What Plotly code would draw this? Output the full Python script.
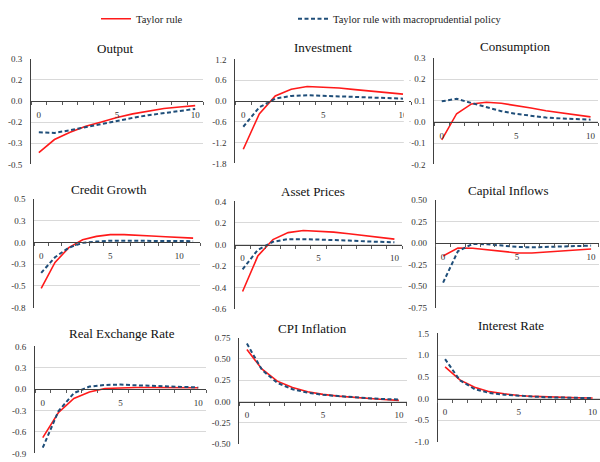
import plotly.graph_objects as go

# ---------------- data ----------------
periods11 = list(range(11))
periods12 = list(range(12))

series_names = ["Taylor rule", "Taylor rule with macroprudential policy"]
panel_titles = ["Output", "Investment", "Consumption",
                "Credit Growth", "Asset Prices", "Capital Inflows",
                "Real Exchange Rate", "CPI Inflation", "Interest Rate"]

output_taylor = [-0.366, -0.273, -0.221, -0.179, -0.149, -0.116, -0.091, -0.070, -0.053, -0.042, -0.032]
output_macro = [-0.221, -0.226, -0.207, -0.184, -0.160, -0.140, -0.119, -0.100, -0.084, -0.070, -0.056]

investment_taylor = [-1.39, -0.37, 0.15, 0.34, 0.42, 0.41, 0.38, 0.33, 0.28, 0.24, 0.20]
investment_macro = [-0.74, -0.18, 0.07, 0.15, 0.17, 0.15, 0.13, 0.11, 0.09, 0.08, 0.07]

consumption_taylor = [-0.085, 0.038, 0.084, 0.092, 0.087, 0.077, 0.065, 0.052, 0.042, 0.032, 0.023]
consumption_macro = [0.096, 0.108, 0.088, 0.068, 0.050, 0.037, 0.027, 0.020, 0.016, 0.012, 0.010]

credit_taylor = [-0.53, -0.23, -0.06, 0.03, 0.07, 0.09, 0.09, 0.085, 0.075, 0.065, 0.058, 0.05]
credit_macro = [-0.35, -0.17, -0.06, -0.005, 0.01, 0.02, 0.02, 0.02, 0.02, 0.02, 0.018, 0.015]

asset_taylor = [-0.435, -0.107, 0.046, 0.11, 0.13, 0.125, 0.115, 0.10, 0.085, 0.07, 0.05]
asset_macro = [-0.23, -0.05, 0.025, 0.05, 0.05, 0.048, 0.043, 0.037, 0.03, 0.025, 0.02]

capital_taylor = [-0.15, -0.057, -0.06, -0.08, -0.10, -0.115, -0.115, -0.105, -0.095, -0.085, -0.07]
capital_macro = [-0.46, -0.095, -0.01, -0.015, -0.03, -0.045, -0.05, -0.045, -0.04, -0.035, -0.03]

rer_taylor = [-0.68, -0.33, -0.13, -0.04, 0.01, 0.02, 0.025, 0.025, 0.025, 0.025, 0.02]
rer_macro = [-0.82, -0.31, -0.055, 0.037, 0.06, 0.065, 0.055, 0.045, 0.035, 0.03, 0.025]

cpi_taylor = [0.61, 0.38, 0.24, 0.165, 0.115, 0.085, 0.065, 0.05, 0.035, 0.025, 0.015]
cpi_macro = [0.68, 0.37, 0.22, 0.145, 0.105, 0.08, 0.065, 0.05, 0.04, 0.03, 0.025]

interest_taylor = [0.73, 0.43, 0.26, 0.16, 0.11, 0.07, 0.05, 0.035, 0.025, 0.02, 0.015]
interest_macro = [0.91, 0.42, 0.22, 0.13, 0.09, 0.06, 0.045, 0.03, 0.02, 0.015, 0.01]

# y tick values and (Excel-rounded) labels
output_ticks = [0.3, 0.15, 0.0, -0.15, -0.3, -0.45]
output_labels = ["0.3", "0.2", "0.0", "-0.2", "-0.3", "-0.5"]
investment_ticks = [1.2, 0.6, 0.0, -0.6, -1.2, -1.8]
investment_labels = ["1.2", "0.6", "0.0", "-0.6", "-1.2", "-1.8"]
consumption_ticks = [0.3, 0.2, 0.1, 0.0, -0.1, -0.2]
consumption_labels = ["0.3", "0.2", "0.1", "0.0", "-0.1", "-0.2"]
credit_ticks = [0.5, 0.25, 0.0, -0.25, -0.5, -0.75]
credit_labels = ["0.5", "0.3", "0.0", "-0.3", "-0.5", "-0.8"]
asset_ticks = [0.4, 0.2, 0.0, -0.2, -0.4, -0.6]
asset_labels = ["0.4", "0.2", "0.0", "-0.2", "-0.4", "-0.6"]
capital_ticks = [0.5, 0.25, 0.0, -0.25, -0.5, -0.75]
capital_labels = ["0.50", "0.25", "0.00", "-0.25", "-0.50", "-0.75"]
rer_ticks = [0.6, 0.3, 0.0, -0.3, -0.6, -0.9]
rer_labels = ["0.6", "0.3", "0.0", "-0.3", "-0.6", "-0.9"]
cpi_ticks = [0.75, 0.5, 0.25, 0.0, -0.25, -0.5]
cpi_labels = ["0.75", "0.50", "0.25", "0.00", "-0.25", "-0.50"]
interest_ticks = [1.5, 1.0, 0.5, 0.0, -0.5, -1.0]
interest_labels = ["1.5", "1.0", "0.5", "0.0", "-0.5", "-1.0"]

x_tick_values = [0, 5, 10]
x_tick_labels = ["0", "5", "10"]

# ---------------- layout geometry (pixels) ----------------
W, H = 600, 462
def px(x):
    return x / W
def py(y):
    return 1 - y / H

# (x_left, x_right, y_top, y_bottom, title_cx, title_cy)
geom = [
    (31, 203, 55, 163, 115, 44),
    (235.3, 411, 55.7, 162, 323, 43),
    (434.3, 598, 54, 163, 515, 42),
    (34.3, 200, 198.3, 309.3, 109, 189),
    (235, 402, 200.7, 311, 313, 191),
    (435.7, 598.5, 199.3, 309.3, 508, 190),
    (35, 206, 349, 458.3, 122, 336),
    (239.3, 406.5, 340, 449, 313, 331),
    (437.7, 600, 335.7, 446.7, 511, 328),
]

panels = [
    (periods11, output_taylor, output_macro, output_ticks, output_labels),
    (periods11, investment_taylor, investment_macro, investment_ticks, investment_labels),
    (periods11, consumption_taylor, consumption_macro, consumption_ticks, consumption_labels),
    (periods12, credit_taylor, credit_macro, credit_ticks, credit_labels),
    (periods11, asset_taylor, asset_macro, asset_ticks, asset_labels),
    (periods11, capital_taylor, capital_macro, capital_ticks, capital_labels),
    (periods11, rer_taylor, rer_macro, rer_ticks, rer_labels),
    (periods11, cpi_taylor, cpi_macro, cpi_ticks, cpi_labels),
    (periods11, interest_taylor, interest_macro, interest_ticks, interest_labels),
]

RED = "#ff1a1a"
BLUE = "#1f4e79"
FONT = "Liberation Serif"
TICKCOLOR = "#333333"

legend_common = dict(orientation="h", xanchor="left", yanchor="middle",
                     font=dict(family=FONT, size=10.5, color="#222222"),
                     bgcolor="rgba(0,0,0,0)", itemwidth=30)

fig = go.Figure()
layout = dict(
    width=W, height=H,
    margin=dict(l=0, r=0, t=0, b=0),
    paper_bgcolor="white", plot_bgcolor="white",
    font=dict(family=FONT, size=9, color=TICKCOLOR),
    showlegend=True,
    legend=dict(x=px(96), y=py(14), **legend_common),
    legend2=dict(x=px(293), y=py(14), **legend_common),
    annotations=[],
    shapes=[],
)

for i, ((xs, red, blue, ticks, labels), g) in enumerate(zip(panels, geom)):
    n = i + 1
    xa = "x" if n == 1 else f"x{n}"
    ya = "y" if n == 1 else f"y{n}"
    xl, xr, yt, yb, tcx, tcy = g
    ymax, ymin = max(ticks), min(ticks)
    # zero-line pixel position
    zero_px = yt + (ymax - 0) / (ymax - ymin) * (yb - yt)

    fig.add_trace(go.Scatter(x=xs, y=red, mode="lines", name=series_names[0],
                             line=dict(color=RED, width=1.6),
                             xaxis=xa, yaxis=ya, showlegend=(n == 1),
                             legend="legend", hoverinfo="skip"))
    fig.add_trace(go.Scatter(x=xs, y=blue, mode="lines", name=series_names[1],
                             line=dict(color=BLUE, width=2, dash="4px,2.5px"),
                             xaxis=xa, yaxis=ya, showlegend=(n == 1),
                             legend="legend2", hoverinfo="skip"))

    xkey = "xaxis" if n == 1 else f"xaxis{n}"
    ykey = "yaxis" if n == 1 else f"yaxis{n}"
    layout[xkey] = dict(
        domain=[px(xl), px(xr)],
        range=[-0.5, len(xs) - 0.5],
        anchor="free", position=py(zero_px),
        showline=True, linecolor="#404040", linewidth=1,
        showgrid=False, zeroline=False,
        tickmode="array", tickvals=x_tick_values, ticktext=x_tick_labels,
        ticks="", ticklabelstandoff=5,
        minor=dict(ticks="outside", ticklen=3, tick0=-0.5, dtick=1,
                   tickcolor="#595959", showgrid=False),
        tickfont=dict(family=FONT, size=9, color=TICKCOLOR),
        fixedrange=True,
    )
    layout[ykey] = dict(
        domain=[py(yb), py(yt)],
        range=[ymin, ymax],
        anchor=xa,
        showline=True, linecolor="#404040", linewidth=1,
        showgrid=True, gridcolor="#d9d9d9", gridwidth=1,
        zeroline=False,
        tickmode="array", tickvals=ticks, ticktext=labels,
        ticks="", ticklabelstandoff=6,
        tickfont=dict(family=FONT, size=9, color=TICKCOLOR),
        fixedrange=True,
    )
    layout["annotations"].append(dict(
        text=panel_titles[i], x=px(tcx), y=py(tcy), xref="paper", yref="paper",
        xanchor="center", yanchor="middle", showarrow=False,
        font=dict(family=FONT, size=13, color="#111111")))

# the Investment panel is clipped on its right edge in the original layout
layout["shapes"].append(dict(type="rect", xref="paper", yref="paper",
                             x0=px(403.8), x1=px(409), y0=py(175), y1=py(40),
                             fillcolor="white", line=dict(width=0), layer="above"))

fig.update_layout(**layout)
fig.write_html("out.html", config={"displayModeBar": False},
               post_script="document.body.style.margin='0';document.body.style.padding='0';")
